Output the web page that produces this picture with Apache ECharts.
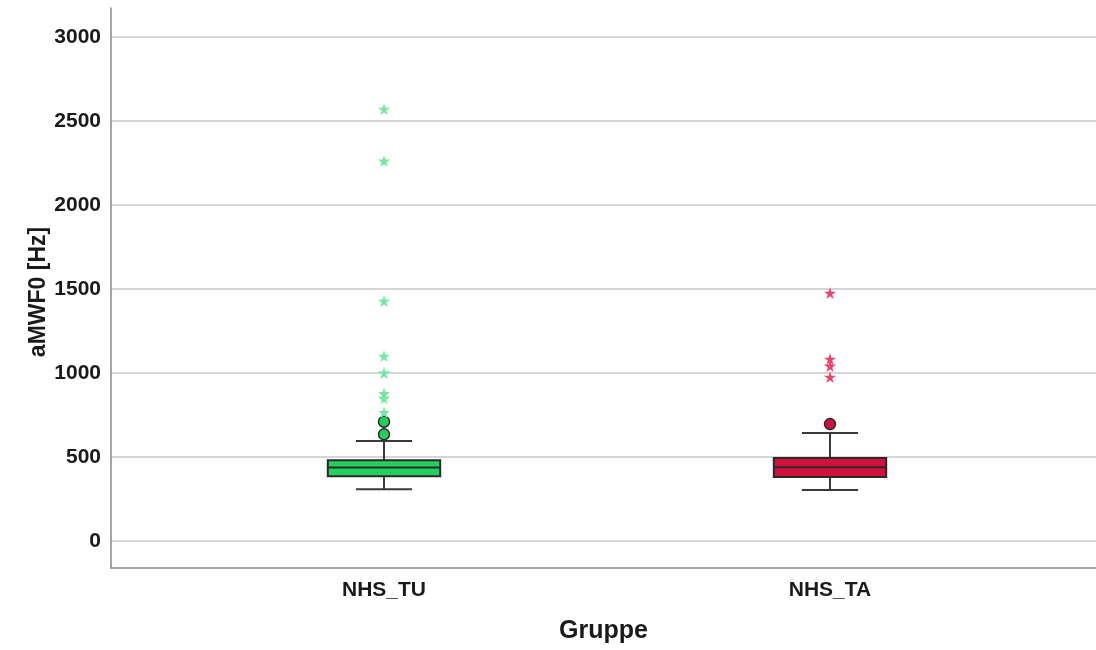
<!DOCTYPE html>
<html>
<head>
<meta charset="utf-8">
<script src="https://cdn.jsdelivr.net/npm/echarts@6/dist/echarts.min.js"></script>
<style>
  html, body { margin: 0; padding: 0; background: #fff; }
  #chart { width: 1096px; height: 650px; }
</style>
</head>
<body>
<div id="chart"></div>
<script>
var chart = echarts.init(document.getElementById('chart'));

let gruppen = ['NHS_TU', 'NHS_TA'];
// min, Q1, median, Q3, max
let boxTU = [308, 385, 438, 480, 595];
let boxTA = [304, 381, 439, 494, 643];
// Ausreisser (Kreise) und Extremwerte (Sterne)
let kreisTU = [635, 710];
let sternTU = [766, 850, 878, 1000, 1101, 1429, 2262, 2571];
let kreisTA = [696];
let sternTA = [976, 1042, 1083, 1476];

let gruen = '#25cf5e';
let gruenHell = '#74e89c';
let rot = '#d1113b';
let rotHell = '#e8446c';
let stern = 'path://M50,0 L61,35 L98,35 L68,57 L79,91 L50,70 L21,91 L32,57 L2,35 L39,35 Z';
let schrift = "'Liberation Sans', Arial, sans-serif";

function punkte(i, werte) {
  return werte.map(function (v) { return [i, v]; });
}

function renderBox(params, api) {
  var x = api.value(0);
  var lo = api.coord([x, api.value(1)]);
  var q1 = api.coord([x, api.value(2)]);
  var med = api.coord([x, api.value(3)]);
  var q3 = api.coord([x, api.value(4)]);
  var hi = api.coord([x, api.value(5)]);
  var band = api.size([1, 0])[0];
  var half = band * 0.126;
  var cap = half / 2;
  var fill = params.dataIndex === 0 ? gruen : rot;
  var line = { stroke: '#3a3a3a', lineWidth: 2 };
  return {
    type: 'group',
    children: [
      { type: 'line', shape: { x1: lo[0], y1: lo[1], x2: q1[0], y2: q1[1] }, style: line },
      { type: 'line', shape: { x1: q3[0], y1: q3[1], x2: hi[0], y2: hi[1] }, style: line },
      { type: 'line', shape: { x1: lo[0] - cap, y1: lo[1], x2: lo[0] + cap, y2: lo[1] }, style: line },
      { type: 'line', shape: { x1: hi[0] - cap, y1: hi[1], x2: hi[0] + cap, y2: hi[1] }, style: line },
      { type: 'rect', shape: { x: q3[0] - half, y: q3[1], width: half * 2, height: q1[1] - q3[1] },
        style: { fill: fill, stroke: '#2a2a2a', lineWidth: 2 } },
      { type: 'line', shape: { x1: med[0] - half, y1: med[1], x2: med[0] + half, y2: med[1] },
        style: { stroke: '#2a2a2a', lineWidth: 2 } }
    ]
  };
}

var option = {
  backgroundColor: '#fff',
  animation: false,
  grid: [
    { left: 111, right: 0, top: 8, bottom: 82 },
    { left: 111, right: 0, top: 37, bottom: 109 },
    { left: 161, right: 43, top: 37, bottom: 109 }
  ],
  xAxis: [
    {
      gridIndex: 0, type: 'value', min: 0, max: 1,
      name: 'Gruppe', nameLocation: 'middle', nameGap: 51,
      nameTextStyle: { fontFamily: schrift, fontSize: 25, fontWeight: 'bold', color: '#1a1a1a' },
      axisLine: { onZero: false, lineStyle: { color: '#8a8a8a', width: 1.5 } },
      axisTick: { show: false }, axisLabel: { show: false }, splitLine: { show: false }
    },
    { gridIndex: 1, type: 'value', min: 0, max: 1, show: false },
    {
      gridIndex: 2, type: 'category', data: gruppen,
      axisLine: { show: false }, axisTick: { show: false },
      axisLabel: { margin: 39, fontFamily: schrift, fontSize: 21, fontWeight: 'bold', color: '#1a1a1a' }
    }
  ],
  yAxis: [
    {
      gridIndex: 0, type: 'value', min: -160, max: 3172,
      name: 'aMWF0 [Hz]', nameLocation: 'middle', nameGap: 61,
      nameTextStyle: { fontFamily: schrift, fontSize: 23, fontWeight: 'bold', color: '#1a1a1a', padding: [0, 8, 0, 0] },
      axisLine: { show: true, onZero: false, lineStyle: { color: '#8a8a8a', width: 1.5 } },
      axisTick: { show: false }, axisLabel: { show: false }, splitLine: { show: false }
    },
    {
      gridIndex: 1, type: 'value', min: 0, max: 3000, interval: 500,
      axisLine: { show: false }, axisTick: { show: false },
      axisLabel: {
        margin: 10, fontFamily: schrift, fontSize: 21, fontWeight: 'bold', color: '#1a1a1a',
        formatter: function (v) { return String(v); }
      },
      splitLine: { lineStyle: { color: '#d6d6d6', width: 2 } }
    },
    { gridIndex: 2, type: 'value', min: 0, max: 3000, show: false }
  ],
  series: [
    {
      type: 'custom', xAxisIndex: 2, yAxisIndex: 2,
      renderItem: renderBox,
      data: [[0].concat(boxTU), [1].concat(boxTA)],
      z: 2
    },
    {
      type: 'scatter', xAxisIndex: 2, yAxisIndex: 2, z: 3,
      symbol: 'circle', symbolSize: 11,
      itemStyle: { color: gruen, borderColor: '#2a2a2a', borderWidth: 1.5, opacity: 1 },
      data: punkte(0, kreisTU)
    },
    {
      type: 'scatter', xAxisIndex: 2, yAxisIndex: 2, z: 3,
      symbol: stern, symbolSize: 12,
      itemStyle: { color: gruenHell, opacity: 1 },
      data: punkte(0, sternTU)
    },
    {
      type: 'scatter', xAxisIndex: 2, yAxisIndex: 2, z: 3,
      symbol: 'circle', symbolSize: 11,
      itemStyle: { color: rot, borderColor: '#2a2a2a', borderWidth: 1.5, opacity: 1 },
      data: punkte(1, kreisTA)
    },
    {
      type: 'scatter', xAxisIndex: 2, yAxisIndex: 2, z: 3,
      symbol: stern, symbolSize: 12,
      itemStyle: { color: rotHell, opacity: 1 },
      data: punkte(1, sternTA)
    }
  ]
};

chart.setOption(option);
</script>
</body>
</html>
